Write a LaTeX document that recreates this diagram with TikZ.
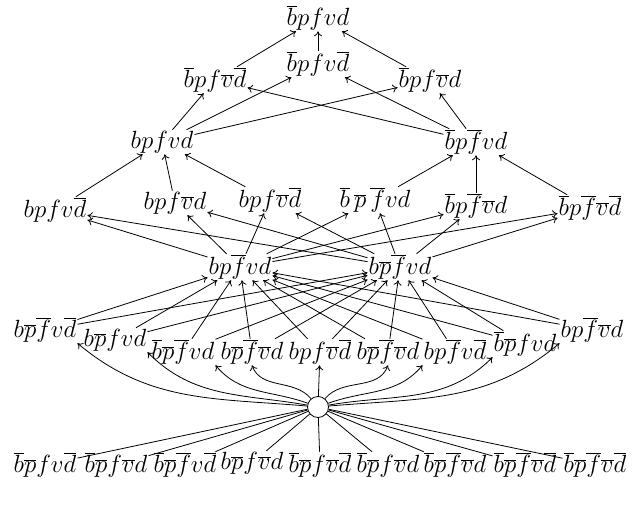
\documentclass[tikz,border=0pt]{standalone}
\usetikzlibrary{arrows.meta}
\begin{document}
\begin{tikzpicture}[x=1pt,y=-1pt,
  lab/.style={inner sep=1pt,font=\fontsize{23}{26}\selectfont},
  ar/.style={->,line width=0.8pt,>={To[length=5pt,width=8pt]}},
  ln/.style={line width=0.8pt}]
\useasboundingbox (0,0) rectangle (640,513);
\newcommand{\ob}[1]{\overline{#1}}
\node[lab] (t) at (318,18) {$\ob{b}pfvd$};
\node[lab] (a1) at (215,80) {$\ob{b}pf\ob{v}\ob{d}$};
\node[lab] (a2) at (318,64) {$\ob{b}pfv\ob{d}$};
\node[lab] (a3) at (430,80) {$\ob{b}pf\ob{v}d$};
\node[lab] (b1) at (162,142) {$bpfvd$};
\node[lab] (b2) at (476,142) {$\ob{b}p\ob{f}vd$};
\node[lab] (c1) at (55,210) {$bpfv\ob{d}$};
\node[lab] (c2) at (175,203) {$bpf\ob{v}d$};
\node[lab] (c3) at (270,200) {$bpf\ob{v}\ob{d}$};
\node[lab] (c4) at (375,200) {$\ob{b}\,\ob{p}\,\ob{f}vd$};
\node[lab] (c5) at (476,206) {$\ob{b}p\ob{f}\ob{v}d$};
\node[lab] (c6) at (590,208) {$\ob{b}p\ob{f}\ob{v}\ob{d}$};
\node[lab] (d1) at (240,267) {$bp\ob{f}vd$};
\node[lab] (d2) at (400,267) {$b\ob{p}\ob{f}vd$};
\node[lab] (e1) at (45,330) {$b\ob{p}\ob{f}v\ob{d}$};
\node[lab] (e2) at (115,340) {$b\ob{p}fvd$};
\node[lab] (e3) at (183,352) {$\ob{b}\ob{p}\ob{f}vd$};
\node[lab] (e4) at (252,352) {$b\ob{p}\ob{f}\ob{v}d$};
\node[lab] (e5) at (320,352) {$bpf\ob{v}\ob{d}$};
\node[lab] (e6) at (388,352) {$b\ob{p}\ob{f}\ob{v}d$};
\node[lab] (e7) at (455,352) {$bp\ob{f}v\ob{d}$};
\node[lab] (e8) at (525,344) {$\ob{b}\ob{p}fvd$};
\node[lab] (e9) at (592,330) {$bp\ob{f}\ob{v}d$};
\node[draw,circle,minimum size=21pt,inner sep=0pt,line width=0.8pt] (o) at (318,407) {};
\node[lab] (f1) at (45,465) {$\ob{b}\ob{p}fv\ob{d}$};
\node[lab] (f2) at (116,465) {$\ob{b}\ob{p}f\ob{v}d$};
\node[lab] (f3) at (185,465) {$\ob{b}\ob{p}\ob{f}v\ob{d}$};
\node[lab] (f4) at (252,463) {$b\ob{p}f\ob{v}d$};
\node[lab] (f5) at (320,465) {$\ob{b}\ob{p}f\ob{v}\ob{d}$};
\node[lab] (f6) at (388,465) {$\ob{b}\ob{p}f\ob{v}d$};
\node[lab] (f7) at (455,465) {$\ob{b}\ob{p}\ob{f}\ob{v}d$};
\node[lab] (f8) at (525,465) {$\ob{b}\ob{p}\ob{f}\ob{v}\ob{d}$};
\node[lab] (f9) at (595,465) {$\ob{b}\ob{p}\ob{f}\ob{v}\ob{d}$};
% edges
\foreach \n in {a1,a2,a3} \draw[ar] (\n) -- (t);
\foreach \n in {b1,b2} \foreach \m in {a1,a2,a3} \draw[ar] (\n) -- (\m);
\foreach \n in {c1,c2,c3} \draw[ar] (\n) -- (b1);
\foreach \n in {c4,c5,c6} \draw[ar] (\n) -- (b2);
\foreach \n in {d1,d2} \foreach \m in {c1,c2,c3,c4,c5,c6} \draw[ar] (\n) -- (\m);
\foreach \n in {e1,e2,e3,e4,e5,e6,e7,e8,e9} \foreach \m in {d1,d2} \draw[ar] (\n) -- (\m);
\draw[ar] (o) to[out=175,in=-40] (e1.south east);
\draw[ar] (o) to[out=170,in=-45] (e2.south east);
\draw[ar] (o) to[out=160,in=-50] (e3.south east);
\draw[ar] (o) to[out=130,in=-70] (e4.south);
\draw[ar] (o) -- (e5);
\draw[ar] (o) to[out=50,in=-110] (e6.south);
\draw[ar] (o) to[out=20,in=-130] (e7.south west);
\draw[ar] (o) to[out=10,in=-135] (e8.south west);
\draw[ar] (o) to[out=5,in=-140] (e9.south west);
\foreach \n in {f1,f2,f3,f4,f5,f6,f7,f8,f9} \draw[ln] (o) -- (\n);
\end{tikzpicture}
\end{document}
